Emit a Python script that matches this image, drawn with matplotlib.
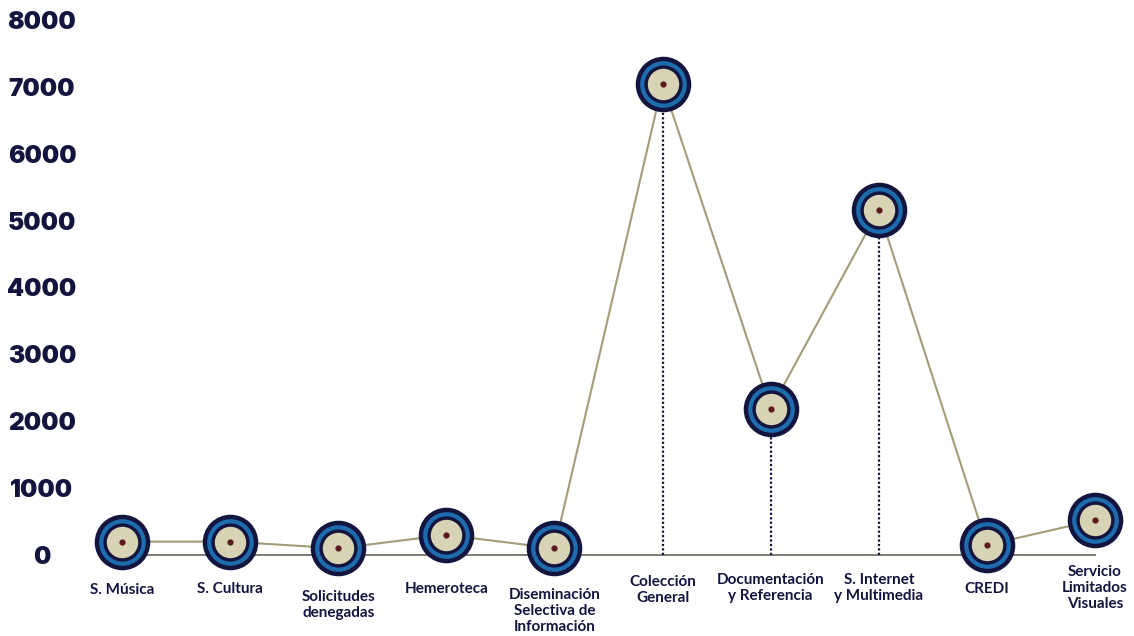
import matplotlib
matplotlib.use('Agg')
import matplotlib.pyplot as plt

categories = ['S. Música', 'S. Cultura', 'Solicitudes\ndenegadas', 'Hemeroteca',
              'Diseminación\nSelectiva de\nInformación', 'Colección\nGeneral',
              'Documentación\ny Referencia', 'S. Internet\ny Multimedia', 'CREDI',
              'Servicio\nLimitados\nVisuales']
values = [200, 200, 100, 300, 100, 7050, 2180, 5160, 150, 520]
yticks = [0, 1000, 2000, 3000, 4000, 5000, 6000, 7000, 8000]

# vertical offset of each category label below the baseline (pixels)
label_drop = [35, 34, 50, 34, 56, 35, 33, 33, 34, 33]

navy = '#14153f'
blue = '#1c6cae'
beige = '#d8d3b4'
dot = '#5a1a1e'
olive = '#a39c78'

plt.rcParams['font.family'] = ['Lato', 'DejaVu Sans']

fig = plt.figure(figsize=(11.34, 6.36), dpi=100)
ax = fig.add_axes([85 / 1134, 81 / 636, 1049 / 1134, 535 / 636])

x = list(range(len(values)))

# baseline
ax.plot([x[0], x[-1]], [0, 0], color='#7f7a72', lw=1.4, zorder=1, clip_on=False)

# dotted drop lines for the large values
for xi, v in zip(x, values):
    if v > 1000:
        ax.plot([xi, xi], [0, v], color=navy, lw=1.6, ls=(0, (1, 1)), zorder=1)

ax.plot(x, values, color=olive, lw=1.5, zorder=2, clip_on=False)

# layered target markers
for ms, c in [(40, navy), (33.6, blue), (27.5, navy), (22.6, beige), (4.5, dot)]:
    ax.plot(x, values, ls='none', marker='o', ms=ms, mfc=c, mec='none',
            zorder=3, clip_on=False)

ax.set_xlim(-37 / 108.1, 9 + 39 / 108.1)
ax.set_ylim(0, 8000)

ax.set_yticks(yticks)
ax.set_yticklabels([str(t) for t in yticks])
ax.tick_params(axis='y', length=0, pad=31, labelsize=17.5, labelcolor=navy)
for lab in ax.get_yticklabels():
    lab.set_ha('center')
    lab.set_family(['Inter', 'Lato', 'DejaVu Sans'])
    lab.set_fontweight('black')
ax.set_xticks([])

for xi, lab, d in zip(x, categories, label_drop):
    ax.annotate(lab, xy=(xi, 0), xytext=(0, -d * 0.72), textcoords='offset points',
                ha='center', va='center', fontsize=11, fontweight='bold',
                color=navy, linespacing=1.2)

for s in ax.spines.values():
    s.set_visible(False)

fig.savefig('out.png', dpi=100)
